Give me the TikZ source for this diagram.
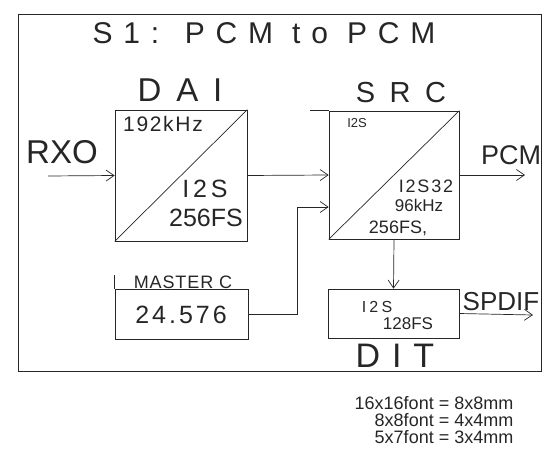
\documentclass[tikz,border=0pt]{standalone}
\usepackage{fontspec}
\setmainfont{Liberation Sans}
\usetikzlibrary{positioning,arrows.meta}
\newcommand{\trk}[2]{{\addfontfeatures{LetterSpace=#1}#2}}
\newcommand{\fsz}[1]{\fontsize{#1}{#1}\selectfont}

\begin{document}
\begin{tikzpicture}[x=1pt,y=1pt,yscale=-1,
  line width=0.7pt, draw=black!85,
  blk/.style={draw, inner sep=0pt},
  txt/.style={inner sep=0pt, text=black!85},
  arr/.style={-{Straight Barb[length=8pt,width=11pt]}}]

\useasboundingbox (0,0) rectangle (553,473);

% frame and title
\draw (18,14) rectangle (541,371);
\node (title) at (264,33) [txt, font=\fsz{30}] {\trk{36}{S1: PCM to PCM}};

% blocks
\node (dai) at (181,175.5) [blk, minimum width=132, minimum height=131] {};
\node (src) at (394,175) [blk, minimum width=130, minimum height=128] {};
\node (mclk) at (181.5,314) [blk, minimum width=133, minimum height=50] {};
\node (dit) at (393.5,313.5) [blk, minimum width=131, minimum height=49] {};
\draw (dai.south west) -- (dai.north east);
\draw (src.south west) -- (src.north east);
\draw (src.north west) -- ++(-19,0);
\draw (mclk.north west) -- ++(0,-14);

% block names
\node (dailbl) at (180,90) [txt, font=\fsz{33}] {\trk{45}{DAI}};
\node (srclbl) at (401,93) [txt, font=\fsz{29}] {\trk{50}{SRC}};
\node (mclklbl) at (183,282) [txt, font=\fsz{18}] {\trk{5}{MASTER C}};
\node (ditlbl) at (395,356) [txt, font=\fsz{34}] {\trk{35}{DIT}};

% texts inside
\node (daiin) at (163,124) [txt, font=\fsz{21}] {\trk{8}{192kHz}};
\node (daifmt) at (205,189) [txt, font=\fsz{25}] {\trk{15}{I2S}};
\node (daifs) at (206,218) [txt, font=\fsz{25}] {256FS};
\node (srcin) at (357,123) [txt, font=\fsz{13}] {I2S};
\node (srcfmt) at (426,186) [txt, font=\fsz{18}] {\trk{10}{I2S32}};
\node (srcrate) at (419,205) [txt, font=\fsz{17}] {96kHz};
\node (srcfs) at (398,228) [txt, font=\fsz{18}] {256FS,};
\node (mclkval) at (181,315) [txt, font=\fsz{25}] {\trk{12}{24.576}};
\node (ditfmt) at (377,307) [txt, font=\fsz{16}] {\trk{20}{I2S}};
\node (ditfs) at (408,324) [txt, font=\fsz{17}] {128FS};

% inputs and outputs
\node (rxo) at (62,152) [txt, font=\fsz{33}] {RXO};
\node (pcm) at (511,155) [txt, font=\fsz{27}] {PCM};
\node (spdif) at (501,302) [txt, font=\fsz{26}] {SPDIF};
\coordinate (rxoin) at (48,176);
\coordinate (pcmout) at (525,175);
\coordinate (spdifout) at (533,315);
\coordinate (mbend) at (297,207);

\draw [arr] (rxoin) -- (dai.west);
\draw [arr] (dai.east) -- (src.west);
\draw [arr] (mclk.east) -| (mbend) -- (mbend -| src.west);
\draw [arr] (src.east) -- (pcmout);
\draw [arr] (src.south) -- (dit.north);
\draw [arr] (dit.east) -- (spdifout);

% notes
\node (note) at (434,422) [txt, font=\fsz{18}, align=left]
  {\renewcommand{\arraystretch}{0.8}%
   \begin{tabular}{@{}r@{\ }l@{}}16x16font & = 8x8mm\\ 8x8font & = 4x4mm\\ 5x7font & = 3x4mm\end{tabular}};

\end{tikzpicture}
\end{document}
